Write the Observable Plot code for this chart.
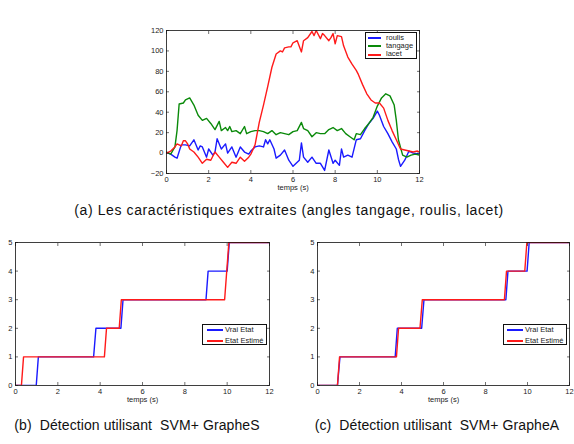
<!DOCTYPE html>
<html>
<head>
<meta charset="utf-8">
<script src="https://cdn.jsdelivr.net/npm/d3@7"></script>
<script src="https://cdn.jsdelivr.net/npm/@observablehq/plot@0.6"></script>
<style>
  html, body { margin: 0; padding: 0; background: #fff; }
  #fig { position: relative; width: 574px; height: 444px; background: #fff; overflow: hidden;
         font-family: "Liberation Sans", Arial, Helvetica, sans-serif; color: #111; }
  .panel { position: absolute; }
  .caption { position: absolute; white-space: pre; font-size: 14px; line-height: 1; transform: translate(-50%, -50%); }
  .legend { position: absolute; background: #fff; border: 1px solid #111; font-size: 7.5px; box-sizing: border-box; }
  .legend .sw { position: absolute; height: 2px; }
  .legend .lb { position: absolute; line-height: 8px; color: #222; }
</style>
</head>
<body>
<div id="fig"></div>
<script>
// ---- data ---------------------------------------------------------------
// axes ticks
const timeTicks = [0, 2, 4, 6, 8, 10, 12];
const angleTicks = [-20, 0, 20, 40, 60, 80, 100, 120];
const stateTicks = [0, 1, 2, 3, 4, 5];

// (a) extracted angles, degrees vs time (s): [t, value]
const roulis = [[0,0.5],[0.2,-1],[0.4,-4],[0.5,-5],[0.7,8],[0.9,8],[1.1,7],[1.3,13],[1.5,3],[1.6,7],[1.7,6],[1.9,-4],[2.0,4],[2.2,-2],[2.3,1],[2.4,14],[2.6,4],[2.8,9],[2.9,0],[3.1,6],[3.3,-4],[3.5,6],[3.7,1],[3.9,-1],[4.0,2],[4.2,6],[4.4,7],[4.6,6],[4.7,13],[4.8,9],[4.9,13],[5.1,4],[5.2,-5],[5.4,-2],[5.6,3],[5.8,-7],[6.0,-13],[6.2,-9],[6.3,-7],[6.4,10],[6.5,-4],[6.7,-9],[6.9,-4],[7.1,-10],[7.3,-10],[7.5,-17],[7.7,3],[7.9,-10],[8.0,-7],[8.2,-12],[8.3,4],[8.4,-4],[8.6,-2],[8.8,-4],[9.0,13],[9.2,14],[9.4,22],[9.6,29],[9.8,34],[10.0,41],[10.1,37],[10.3,26],[10.5,19],[10.7,11],[10.9,4],[11.0,-6],[11.1,-13],[11.3,-7],[11.5,2],[11.7,0],[12,-1]];
const tangage = [[0,1],[0.2,-1],[0.4,6],[0.5,22],[0.6,48],[0.8,49],[0.9,52],[1.1,54],[1.3,47],[1.5,37],[1.7,32],[1.9,34],[2.1,29],[2.3,23],[2.5,31],[2.6,22],[2.8,25],[2.9,22],[3.0,26],[3.1,21],[3.3,22],[3.5,19],[3.7,26],[3.8,19],[4.0,21],[4.2,22],[4.4,22],[4.6,21],[4.8,19],[5.0,22],[5.2,18],[5.4,20],[5.6,19],[5.8,18],[6.0,21],[6.2,22],[6.4,30],[6.5,24],[6.7,22],[6.9,16],[7.1,20],[7.3,19],[7.5,19],[7.7,23],[7.9,25],[8.1,22],[8.3,24],[8.5,19],[8.7,16],[8.9,13],[9.0,19],[9.2,18],[9.4,24],[9.6,29],[9.8,35],[10.0,46],[10.2,54],[10.4,58],[10.6,56],[10.8,47],[10.9,32],[11.0,13],[11.2,-2],[11.4,-4],[11.6,-2],[11.8,-1],[12,-2]];
const lacet = [[0,0],[0.2,2],[0.4,6],[0.5,9],[0.7,7],[0.8,12],[0.9,12],[1.0,9],[1.1,4],[1.3,1],[1.5,-4],[1.7,-10],[1.9,-6],[2.1,-7],[2.3,1],[2.5,-4],[2.7,-9],[2.9,-14],[3.1,-9],[3.3,-10],[3.5,-4],[3.7,-8],[3.9,-4],[4.0,-1],[4.2,8],[4.4,30],[4.6,47],[4.8,65],[5.0,84],[5.2,97],[5.4,100],[5.5,99],[5.6,103],[5.8,104],[5.9,104],[6.0,108],[6.2,110],[6.4,99],[6.5,110],[6.7,113],[6.9,119],[7.0,115],[7.1,120],[7.3,112],[7.4,117],[7.5,115],[7.7,110],[7.8,113],[7.9,117],[8.0,107],[8.1,115],[8.3,114],[8.4,105],[8.6,94],[8.8,87],[9.0,81],[9.1,77],[9.3,67],[9.5,58],[9.7,52],[9.9,49],[10.1,49],[10.3,44],[10.5,32],[10.7,22],[10.9,13],[11.1,4],[11.3,3],[11.5,2],[11.7,1],[11.9,2],[12,1]];

// (b) SVM + GrapheS: true vs estimated state over time
const vraiEtatS = [[0,0],[0.98,0],[1.08,1],[3.69,1],[3.8,2],[4.98,2],[5.08,3],[9.0,3],[9.1,4],[10.0,4],[10.1,5],[12,5]];
const etatEstimeS = [[0,0],[0.28,0],[0.38,1],[4.2,1],[4.3,2],[4.9,2],[5.0,3],[9.88,3],[10.08,5],[12,5]];

// (c) SVM + GrapheA
const vraiEtatA = [[0,0],[0.95,0],[1.07,1],[3.7,1],[3.8,2],[4.96,2],[5.07,3],[8.97,3],[9.07,4],[9.98,4],[10.08,5],[12,5]];
const etatEstimeA = [[0,0],[0.95,0],[1.05,1],[3.76,1],[3.86,2],[4.88,2],[4.99,3],[8.9,3],[9.0,4],[9.87,4],[9.97,5],[12,5]];

const captions = {
  a: "(a) Les caractéristiques extraites (angles tangage, roulis, lacet)",
  b: "(b)  Détection utilisant  SVM+ GrapheS",
  c: "(c)  Détection utilisant  SVM+ GrapheA"
};
const xLabel = "temps (s)";

const BLUE = "#1a1aff", GREEN = "#0a8a0a", RED = "#ff1a1a";

// ---- drawing ------------------------------------------------------------
const fig = document.getElementById("fig");

function panel({left, top, width, height, margins, yDomain, yTicks, series}) {
  const [mt, mr, mb, ml] = margins;
  const chart = Plot.plot({
    width, height,
    marginTop: mt, marginRight: mr, marginBottom: mb, marginLeft: ml,
    style: {fontSize: "7.5px", fontFamily: "Liberation Sans, Arial, sans-serif", color: "#222", background: "transparent", overflow: "visible"},
    x: {domain: [0, 12], ticks: timeTicks},
    y: {domain: yDomain, ticks: yTicks},
    marks: [
      ...series.map(s => Plot.line(s.data, {x: d => d[0], y: d => d[1], stroke: s.color, strokeWidth: 1.4, clip: true})),
      Plot.frame({stroke: "#111", strokeWidth: 0.8}),
      Plot.axisX({anchor: "bottom", ticks: timeTicks, tickFormat: d3.format("d"), tickSize: -3, tickPadding: 6, label: null, stroke: "#111", strokeWidth: 0.6}),
      Plot.axisX({anchor: "top", ticks: timeTicks, tickSize: -3, tickFormat: () => "", label: null, stroke: "#111", strokeWidth: 0.6}),
      Plot.axisY({anchor: "left", ticks: yTicks, tickFormat: d3.format("d"), tickSize: -3, tickPadding: 6, label: null, stroke: "#111", strokeWidth: 0.6}),
      Plot.axisY({anchor: "right", ticks: yTicks, tickSize: -3, tickFormat: () => "", label: null, stroke: "#111", strokeWidth: 0.6}),
      Plot.text([xLabel], {frameAnchor: "bottom", dy: 16, fill: "#222"})
    ]
  });
  chart.classList.add("panel");
  chart.style.left = left + "px";
  chart.style.top = top + "px";
  fig.appendChild(chart);
}

function legend({left, top, width, height, rows, swX, swW, lbX, rowY}) {
  const box = document.createElement("div");
  box.className = "legend";
  Object.assign(box.style, {left: left + "px", top: top + "px", width: width + "px", height: height + "px"});
  rows.forEach((r, i) => {
    const sw = document.createElement("div");
    sw.className = "sw";
    Object.assign(sw.style, {left: swX + "px", width: swW + "px", top: Math.round(rowY[i] - 1) + "px", background: r.color});
    const lb = document.createElement("div");
    lb.className = "lb";
    lb.textContent = r.name;
    Object.assign(lb.style, {left: lbX + "px", top: (rowY[i] - 4.5) + "px"});
    box.appendChild(sw);
    box.appendChild(lb);
  });
  fig.appendChild(box);
}

function caption(text, cx, cy, spacing) {
  const d = document.createElement("div");
  d.className = "caption";
  d.textContent = text;
  d.style.left = cx + "px";
  d.style.top = cy + "px";
  d.style.letterSpacing = spacing + "px";
  fig.appendChild(d);
}

// (a)
panel({left: 130, top: 20, width: 300, height: 180, margins: [10, 11, 27, 36],
  yDomain: [-20, 120], yTicks: angleTicks,
  series: [{data: roulis, color: BLUE}, {data: tangage, color: GREEN}, {data: lacet, color: RED}]});
legend({left: 365, top: 32, width: 52, height: 27, swX: 2, swW: 13, lbX: 20, rowY: [5, 13, 21.5],
  rows: [{name: "roulis", color: BLUE}, {name: "tangage", color: GREEN}, {name: "lacet", color: RED}]});

// (b)
panel({left: 0, top: 232, width: 290, height: 180, margins: [10, 21, 27, 15],
  yDomain: [0, 5], yTicks: stateTicks,
  series: [{data: vraiEtatS, color: BLUE}, {data: etatEstimeS, color: RED}]});
legend({left: 202, top: 324, width: 65, height: 21, swX: 4, swW: 16, lbX: 22, rowY: [5, 16],
  rows: [{name: "Vrai Etat", color: BLUE}, {name: "Etat Estimé", color: RED}]});

// (c)
panel({left: 290, top: 232, width: 284, height: 180, margins: [10, 5, 27, 27],
  yDomain: [0, 5], yTicks: stateTicks,
  series: [{data: vraiEtatA, color: BLUE}, {data: etatEstimeA, color: RED}]});
legend({left: 503, top: 324, width: 64, height: 21, swX: 3, swW: 16, lbX: 21, rowY: [5, 16],
  rows: [{name: "Vrai Etat", color: BLUE}, {name: "Etat Estimé", color: RED}]});

caption(captions.a, 289, 210, 0.6);
caption(captions.b, 137, 425, 0.1);
caption(captions.c, 437, 425, 0.1);
</script>
</body>
</html>
